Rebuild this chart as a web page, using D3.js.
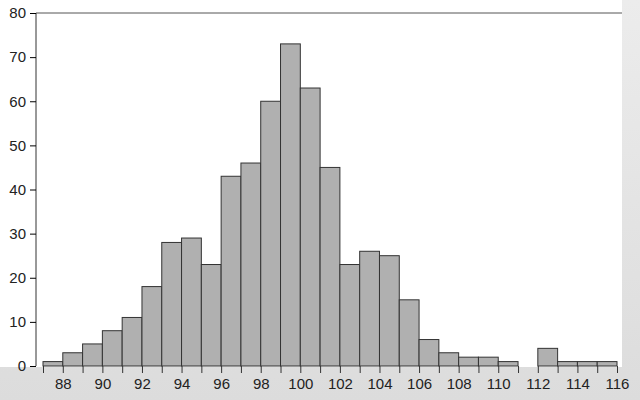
<!DOCTYPE html>
<html><head><meta charset="utf-8">
<script src="https://cdn.jsdelivr.net/npm/d3@7"></script>
<style>body{margin:0;background:#e6e6e6}svg{display:block}</style>
</head><body><svg id="c" width="640" height="400"></svg>
<script>
// bin start values (width 1) and counts
const binStarts = [87,88,89,90,91,92,93,94,95,96,97,98,99,100,101,102,103,104,105,106,107,108,109,110,111,112,113,114,115];
const counts = [1,3,5,8,11,18,28,29,23,43,46,60,73,63,45,23,26,25,15,6,3,2,2,1,0,4,1,1,1];
const yTicks = [0,10,20,30,40,50,60,70,80];
const xLabels = [88,90,92,94,96,98,100,102,104,106,108,110,112,114,116];

const svg = d3.select("#c");
const x = d3.scaleLinear().domain([87, 116]).range([43, 617]);
const y = d3.scaleLinear().domain([0, 80]).range([366, 13]);

const bg = svg.append("defs").append("linearGradient").attr("id","g").attr("x1",0).attr("x2",0).attr("y1",0).attr("y2",1);
bg.append("stop").attr("offset","0%").attr("stop-color","#ececec");
bg.append("stop").attr("offset","100%").attr("stop-color","#dcdcdc");
svg.append("rect").attr("width",640).attr("height",400).attr("fill","url(#g)");
svg.append("rect").attr("x",0).attr("y",0).attr("width",622).attr("height",367).attr("fill","#fff");

svg.append("g").selectAll("rect").data(binStarts).join("rect")
  .attr("x", d => x(d))
  .attr("y", (d, i) => y(counts[i]))
  .attr("width", d => x(d + 1) - x(d))
  .attr("height", (d, i) => y(0) - y(counts[i]))
  .attr("fill", "#b0b0b0").attr("stroke", "#333").attr("stroke-width", 1);

// top frame line
svg.append("line").attr("x1", 36).attr("x2", 622).attr("y1", 13).attr("y2", 13).attr("stroke", "#555");

const yAxis = svg.append("g").attr("transform", "translate(36,0)")
  .call(d3.axisLeft(y).tickValues(yTicks).tickSize(6).tickPadding(4));
yAxis.select(".domain").attr("stroke", "#333").attr("d", "M0,13V366");
yAxis.selectAll("text").attr("font-family", "Liberation Sans, Arial").attr("font-size", 15).attr("fill", "#222");

const xAxis = svg.append("g").attr("transform", "translate(0,366)")
  .call(d3.axisBottom(x).tickValues(d3.range(87, 117)).tickSize(7).tickPadding(5)
    .tickFormat(d => xLabels.includes(d) ? d : ""));
xAxis.select(".domain").remove();
xAxis.selectAll("line").attr("stroke", "#333");
xAxis.selectAll("text").attr("font-family", "Liberation Sans, Arial").attr("font-size", 15).attr("fill", "#222");
</script></body></html>
